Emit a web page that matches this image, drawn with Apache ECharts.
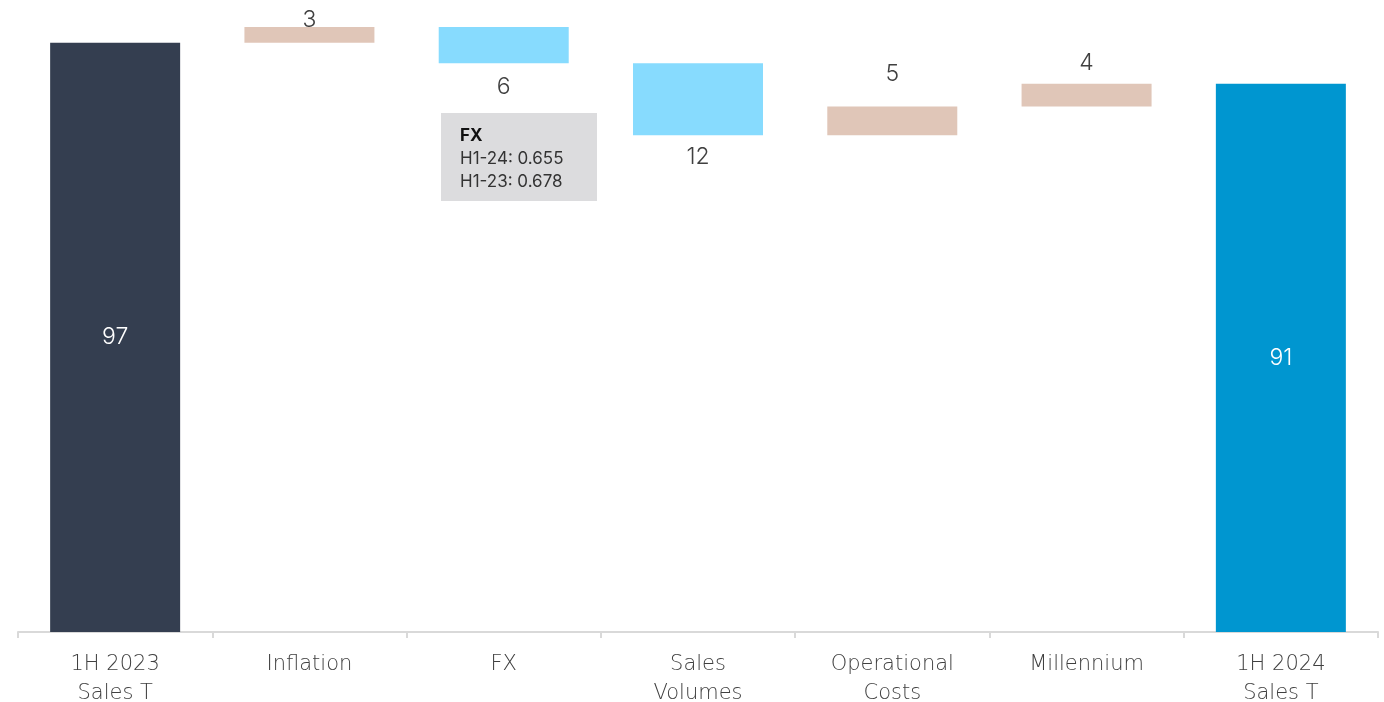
<!DOCTYPE html>
<html>
<head>
<meta charset="utf-8">
<script src="https://cdn.jsdelivr.net/npm/echarts@6/dist/echarts.min.js"></script>
<style>
  html, body { margin: 0; padding: 0; background: #fff; }
  #chart { width: 1384px; height: 702px; }
</style>
</head>
<body>
<div id="chart"></div>
<script>
// categories of the bridge
const categories = ['1H 2023\nSales T', 'Inflation', 'FX', 'Sales\nVolumes', 'Operational\nCosts', 'Millennium', '1H 2024\nSales T']
// opening and closing totals
const startValue = 97.4
const endValue = 90.6
// movements between them (positive = up, negative = down)
const changes = [2.65, -6.05, -11.9, 4.75, 3.75]
// annotation next to FX
const fxNote = ['FX', 'H1-24: 0.655', 'H1-23: 0.678']

// styling
const barColors = ['#343e50', '#e0c6b8', '#87dbfe', '#87dbfe', '#e0c6b8', '#e0c6b8', '#0096d0']
const labelGap = [0, -5, 12, 10, 21, 9, 0]
const font = 'Inter'
const axisFont = 'DejaVu Sans'

// build invisible base + visible heights
const base = [0]
const heights = [startValue]
let running = startValue
changes.forEach(c => {
  base.push(c >= 0 ? running : running + c)
  heights.push(Math.abs(c))
  running += c
})
base.push(0)
heights.push(endValue)

const lastIdx = heights.length - 1
const visible = heights.map((h, i) => {
  const isTotal = i === 0 || i === lastIdx
  const up = !isTotal && changes[i - 1] >= 0
  return {
    value: h,
    itemStyle: { color: barColors[i] },
    label: {
      show: true,
      position: isTotal ? 'inside' : (up ? 'top' : 'bottom'),
      distance: labelGap[i],
      color: isTotal ? '#ffffff' : '#404040'
    }
  }
})

const chart = echarts.init(document.getElementById('chart'))

chart.setOption({
  animation: false,
  grid: { left: 18, right: 6, top: 27, bottom: 70, outerBoundsMode: 'none' },
  xAxis: {
    type: 'category',
    data: categories,
    offset: 2,
    axisLine: { lineStyle: { color: '#d9d9d9', width: 2 } },
    axisTick: { show: true, length: 6, lineStyle: { color: '#d9d9d9', width: 2 } },
    axisLabel: {
      color: '#404040',
      fontFamily: axisFont,
      fontWeight: 200,
      fontSize: 21,
      lineHeight: 29,
      margin: 16,
      interval: 0
    }
  },
  yAxis: {
    type: 'value',
    min: 0,
    max: 100,
    show: false,
    splitLine: { show: false }
  },
  series: [
    {
      type: 'bar',
      stack: 'bridge',
      data: base,
      barWidth: 130,
      itemStyle: { color: 'transparent' },
      silent: true
    },
    {
      type: 'bar',
      stack: 'bridge',
      data: visible,
      barWidth: 130,
      label: {
        fontFamily: font,
        fontWeight: 300,
        fontSize: 23,
        formatter: p => Math.round(p.value)
      }
    }
  ],
  graphic: [
    {
      type: 'group',
      left: 441,
      top: 113,
      children: [
        { type: 'rect', shape: { x: 0, y: 0, width: 156, height: 88 }, style: { fill: '#dcdcde' } },
        { type: 'text', x: 19, y: 14, style: { text: fxNote[0], fontFamily: font, fontWeight: 'bold', fontSize: 17, fill: '#111' } },
        { type: 'text', x: 19, y: 37, style: { text: fxNote[1], fontFamily: font, fontSize: 17, fill: '#333' } },
        { type: 'text', x: 19, y: 60, style: { text: fxNote[2], fontFamily: font, fontSize: 17, fill: '#333' } }
      ]
    }
  ]
})
</script>
</body>
</html>
